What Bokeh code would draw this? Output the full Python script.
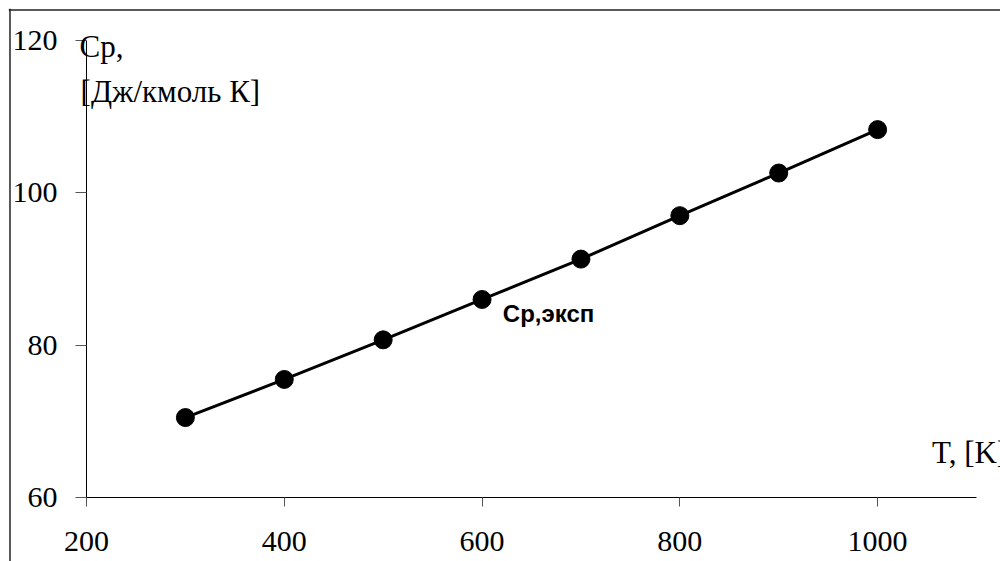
from bokeh.plotting import figure
from bokeh.models import FixedTicker, Label, LinearAxis, Span
from bokeh.embed import file_html
from bokeh.resources import INLINE

# Data
temperature = [300, 400, 500, 600, 700, 800, 900, 1000]
cp_exp = [70.5, 75.5, 80.7, 86.0, 91.3, 97.0, 102.6, 108.3]
x_ticks = [200, 400, 600, 800, 1000]
y_ticks = [60, 80, 100, 120]

p = figure(width=1000, height=561, output_backend="svg", toolbar_location=None,
           x_range=(121.13, 1124.27), y_range=(51.60, 124.20),
           x_axis_location=None, y_axis_location=None,
           min_border_left=8, min_border_right=0, min_border_top=8, min_border_bottom=0)
p.outline_line_color = None
p.xgrid.grid_line_color = None
p.ygrid.grid_line_color = None
p.background_fill_color = "white"
p.border_fill_color = "white"

xaxis = LinearAxis(fixed_location=60, bounds=(200, 1100))
yaxis = LinearAxis(fixed_location=200, bounds=(60, 120))
for ax, ticks in ((xaxis, x_ticks), (yaxis, y_ticks)):
    ax.ticker = FixedTicker(ticks=ticks)
    ax.axis_line_color = "black"
    ax.axis_line_width = 1
    ax.major_tick_line_color = "#555555"
    ax.major_tick_in = 0
    ax.minor_tick_line_color = None
    ax.major_label_text_font = "Liberation Serif"
    ax.major_label_text_font_size = "30px"
    ax.major_label_text_color = "black"
xaxis.major_tick_out = 9
xaxis.major_label_standoff = 25
yaxis.major_tick_out = 11
yaxis.major_label_standoff = 18
p.add_layout(xaxis, "below")
p.add_layout(yaxis, "left")

# outer chart border (left and top visible in the window)
p.add_layout(Span(location=122.64, dimension="height", line_color="#222222", line_width=1.5))
p.add_layout(Span(location=124.0, dimension="width", line_color="#222222", line_width=1.5))

p.line(temperature, cp_exp, line_color="black", line_width=3)
p.scatter(temperature, cp_exp, size=18, fill_color="black", line_color="black")

serif = dict(text_font="Liberation Serif", text_font_size="31px", text_color="black",
             text_baseline="alphabetic")
p.add_layout(Label(x=193, y=119.2, text="Cp,", **serif))
p.add_layout(Label(x=194, y=113.3, text="[Дж/кмоль К]", **serif))
p.add_layout(Label(x=1055, y=65.9, text="T, [K]", **serif))
p.add_layout(Label(x=621, y=84.2, text="Ср,эксп", text_font="Liberation Sans",
                   text_font_style="bold", text_font_size="24px", text_color="black",
                   text_baseline="alphabetic"))

open("out.html", "w").write(file_html(p, INLINE))
